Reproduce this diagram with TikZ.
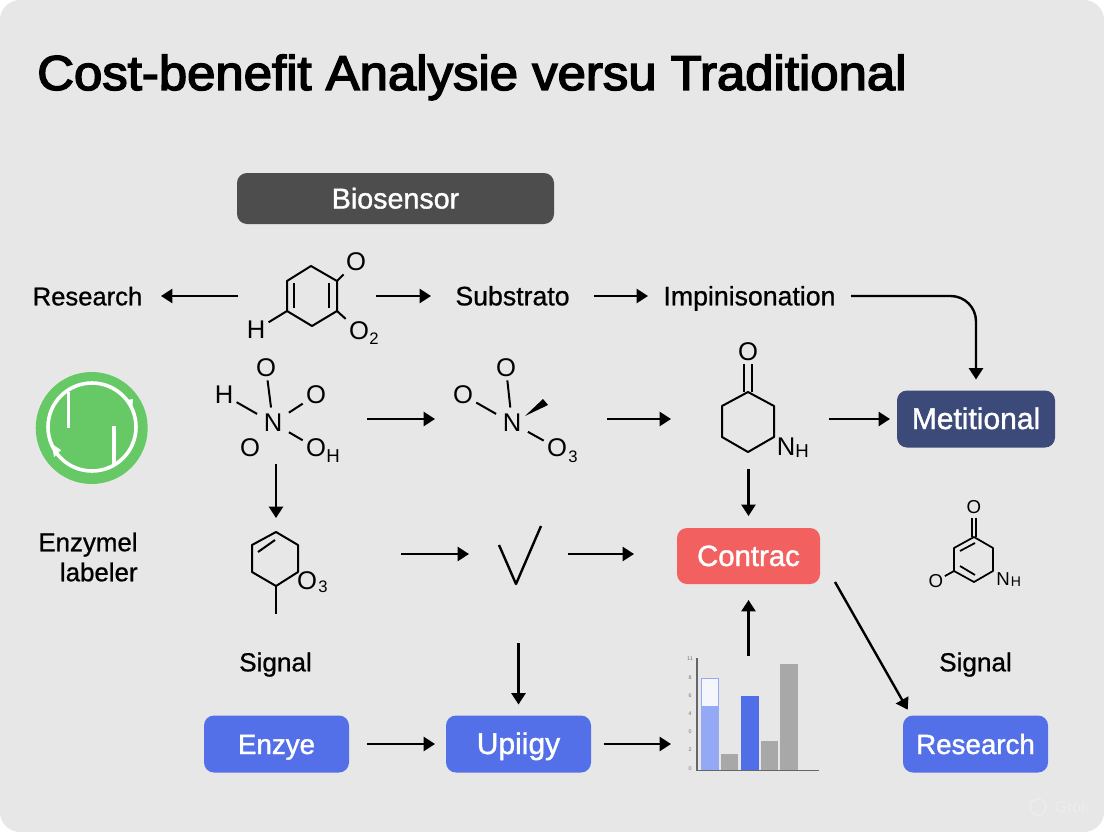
\documentclass[tikz,border=0pt]{standalone}
\usepackage{fontspec}
\setmainfont{Liberation Sans}
\newfontfamily\medfont[FakeBold=0.8]{Liberation Sans}
\newfontfamily\boxfont[FakeBold=1.3]{Liberation Sans}
\newfontfamily\titlefont[FakeBold=3]{Liberation Sans}
\usetikzlibrary{arrows.meta,calc}
\definecolor{bgc}{HTML}{E7E7E7}
\definecolor{darkbox}{HTML}{4D4D4D}
\definecolor{navybox}{HTML}{3B4A78}
\definecolor{redbox}{HTML}{F2605F}
\definecolor{bluebox}{HTML}{5470E8}
\definecolor{greenc}{HTML}{66C966}
\definecolor{barlight}{HTML}{93A9F5}
\definecolor{barblue}{HTML}{4F6EE8}
\definecolor{bargray}{HTML}{A8A8A8}
\definecolor{barpale}{HTML}{F4F6FC}
\tikzset{
  x=0.75pt,y=-0.75pt,
  ph/.style 2 args={rectangle,minimum width=#1*0.75pt,minimum height=#2*0.75pt,inner sep=0pt,outer sep=0pt},
  boxn/.style n args={3}{ph={#1}{#2},fill=#3,rounded corners=7.5pt,text=white,text height=15pt,text depth=0pt,font=\boxfont\fontsize{21.5}{24}\selectfont},
  lab/.style={text height=14pt,text depth=0pt,font=\medfont\fontsize{20}{24}\selectfont,text=black},
  arr/.style={line width=1.8pt,draw=black,-{Triangle[length=8.5pt,width=10.5pt]}},
  bond/.style={line width=1.5pt,draw=black,line join=round},
  atom/.style={inner sep=2.5pt,outer sep=0pt,font=\fontsize{19.2}{20}\selectfont},
  hub/.style={atom,inner sep=5pt},
  subn/.style={inner sep=0pt,outer sep=0pt,font=\fontsize{12.5}{14}\selectfont},
  atoms/.style={inner sep=1.2pt,outer sep=0pt,font=\fontsize{14}{16}\selectfont},
  subs/.style={inner sep=0pt,outer sep=0pt,font=\fontsize{10.5}{12}\selectfont},
  tick/.style={inner sep=0pt,font=\fontsize{4}{5}\selectfont,text=black!55},
}
\begin{document}
\begin{tikzpicture}
\useasboundingbox (0,0) rectangle (1104,832);
\fill[white] (0,0) rectangle (1104,832);
\fill[bgc,rounded corners=15pt] (0,0) rectangle (1104,832);

% title
\node[anchor=west,inner sep=0pt,text height=26.2pt,text depth=0pt,font=\titlefont\fontsize{36.7}{40}\selectfont] (title) at (37,72.5) {\scalebox{1.04}[1]{Cost-benefit Analysie versu Traditional}};

% boxes
\node[boxn={317}{51}{darkbox}] (bio) at (395.5,198.5) {Biosensor};
\node[boxn={158}{57}{navybox},font=\boxfont\fontsize{22.5}{24}\selectfont] (metit) at (976,419) {Metitional};
\node[boxn={143}{56}{redbox},font=\boxfont\fontsize{22}{24}\selectfont] (contrac) at (748.5,556) {Contrac};
\node[boxn={145}{57}{bluebox},font=\boxfont\fontsize{20.8}{24}\selectfont] (enzye) at (276.5,744) {Enzye};
\node[boxn={145}{57}{bluebox},font=\boxfont\fontsize{22.5}{24}\selectfont] (upiigy) at (518.5,744) {Upiigy};
\node[boxn={145}{57}{bluebox},font=\boxfont\fontsize{20.8}{24}\selectfont] (resbox) at (975.5,744) {Research};

% text labels (node extents reach the arrow ends)
\node[ph={147}{30},lab,font=\medfont\fontsize{19.2}{24}\selectfont] (research) at (87.5,296) {Research};
\node[ph={163}{30},lab] (substrato) at (512.5,296) {Substrato};
\node[ph={203}{30},lab] (impin) at (749.5,296) {Impinisonation};
\node[align=right,inner sep=0pt,font=\medfont\fontsize{19.4}{22.5}\selectfont] (enzymel) at (88,557) {Enzymel\\labeler};
\node[lab,inner sep=0pt,font=\medfont\fontsize{19.6}{24}\selectfont] (signalA) at (275.5,662) {Signal};
\node[lab,inner sep=0pt,font=\medfont\fontsize{19.6}{24}\selectfont] (signalB) at (975.5,662) {Signal};

% invisible extents of the drawn figures
\node[ph={138}{60}] (mol1) at (307,296) {};
\node[ph={182}{90}] (mol2) at (276,419) {};
\node[ph={169}{90}] (mol3) at (519.5,419) {};
\node[ph={155}{100}] (mol4) at (748.5,419) {};
\node[ph={250}{72}] (mol5) at (276,554) {};
\node[ph={99}{178}] (check) at (518.5,554) {};
\node[ph={155}{176}] (chart) at (748.5,744) {};
\coordinate (diagstart) at ($(contrac.south east)+(15,-2)$);
\coordinate (diagend) at ($(resbox.north west)+(8,0)$);

% connectors
\draw[arr] (mol1.west) -- (research.east);
\draw[arr] (mol1.east) -- (substrato.west);
\draw[arr] (substrato.east) -- (impin.west);
\draw[arr,rounded corners=19pt,shorten >=8.25pt] (impin.east) -| (metit.north);
\draw[arr] (mol2.east) -- (mol3.west);
\draw[arr,shorten <=2.25pt] (mol3.east) -- (mol4.west);
\draw[arr,shorten <=2.25pt,shorten >=5.25pt] (mol4.east) -- (metit.west);
\draw[arr] (mol2.south) -- (mol5.north);
\draw[arr] (mol5.east) -- (check.west);
\draw[arr,shorten >=32.25pt] (check.east) -- (check.east -| contrac.west);
\draw[arr,shorten >=9pt] (mol4.south) -- (contrac.north);
\draw[arr,shorten >=12pt] (chart.north) -- (contrac.south);
\draw[arr,shorten >=8.25pt] (check.south) -- (upiigy.north);
\draw[arr,shorten <=13.5pt,shorten >=8.25pt] (enzye.east) -- (upiigy.west);
\draw[arr,shorten <=9.75pt] (upiigy.east) -- (chart.west);
\draw[arr,shorten >=5pt] (diagstart) -- (diagend);

% green cycle icon
\fill[greenc] (91.7,428) circle[radius=56];
\draw[white,line width=2.7pt] (92,427) circle[radius=44];
\draw[white,line width=2.7pt] (68.5,392) -- (68.5,428);
\draw[white,line width=2.7pt] (114,426) -- (114,464);
\fill[white] (126,400) -- (133,399) -- (132,411) -- cycle;
\fill[white] (52,444) -- (61,450) -- (54,457) -- cycle;

% molecule 1
\coordinate (m1t) at (311,266); \coordinate (m1ur) at (337,281); \coordinate (m1lr) at (337,311);
\coordinate (m1b) at (312,326); \coordinate (m1ll) at (287,311); \coordinate (m1ul) at (287,281);
\draw[bond] (m1t)--(m1ur)--(m1lr)--(m1b)--(m1ll)--(m1ul)--cycle;
\draw[bond] (294,283)--(294,308);
\draw[bond] (329,283)--(329,308);
\node[atom] (m1O) at (356,262) {O};
\node[atom] (m1H) at (256,330) {H};
\node[atom] (m1Ob) at (359,331) {O};
\node[subn] (m1Os) at (374,339) {2};
\draw[bond] (m1ur) -- (m1O);
\draw[bond] (m1ll) -- (m1H);
\draw[bond] (m1lr) -- (m1Ob);

% molecule 2
\node[hub] (m2N) at (273,423) {N};
\node[atom] (m2Ot) at (266,368) {O};
\node[atom] (m2H) at (224,395) {H};
\node[atom] (m2Or) at (316,395) {O};
\node[atom] (m2Ol) at (250,448) {O};
\node[atom] (m2Oh) at (316,448) {O};
\node[atoms] (m2Hs) at (333,456) {H};
\draw[bond] (m2N) -- (m2Ot);
\draw[bond] (m2N) -- (m2H);
\draw[bond] (m2N) -- (m2Or);
\draw[bond] (m2N) -- (m2Oh);

% molecule 3
\node[hub] (m3N) at (512,423) {N};
\node[atom] (m3Ot) at (506,368) {O};
\node[atom] (m3Ol) at (463,395) {O};
\node[atom] (m3Ob) at (557,448) {O};
\node[subn] (m3Os) at (573,457) {3};
\draw[bond] (m3N) -- (m3Ot);
\draw[bond] (m3N) -- (m3Ol);
\draw[bond] (m3N) -- (m3Ob);
\fill[black] (525,416) -- (548,405) -- (543,399) -- cycle;

% molecule 4
\coordinate (m4t) at (748,392); \coordinate (m4ur) at (774,406); \coordinate (m4lr) at (774,437);
\coordinate (m4b) at (748,452); \coordinate (m4ll) at (722,437); \coordinate (m4ul) at (722,406);
\draw[bond] (m4t)--(m4ur)--(m4lr)--(m4b)--(m4ll)--(m4ul)--cycle;
\node[atom] (m4O) at (748,352) {O};
\node[atom,inner sep=0.5pt] (m4N) at (786,447) {N};
\node[atoms] (m4H) at (802,451) {H};
\draw[bond] (744,392)--(744,364);
\draw[bond] (752,392)--(752,364);

% molecule 5
\coordinate (m5t) at (276,532); \coordinate (m5ur) at (298,545); \coordinate (m5lr) at (298,572);
\coordinate (m5b) at (276,586); \coordinate (m5ll) at (252,572); \coordinate (m5ul) at (252,545);
\coordinate (m5tail) at (276,614);
\draw[bond] (m5t)--(m5ur)--(m5lr)--(m5b)--(m5ll)--(m5ul)--cycle;
\draw[bond] (258,552)--(275,540);
\draw[bond] (m5b)--(m5tail);
\node[atom] (m5O) at (307,581) {O};
\node[subn] (m5Os) at (323,587) {3};

% check mark
\coordinate (cka) at (499,545); \coordinate (ckb) at (516,584); \coordinate (ckc) at (541,526);
\draw[bond,line width=1.8pt] (cka)--(ckb)--(ckc);

% molecule 6
\coordinate (m6t) at (974,537); \coordinate (m6ur) at (993,548); \coordinate (m6lr) at (993,571);
\coordinate (m6b) at (974,582); \coordinate (m6ll) at (954,571); \coordinate (m6ul) at (954,548);
\draw[bond,line width=1.3pt] (m6t)--(m6ur)--(m6lr)--(m6b)--(m6ll)--(m6ul)--cycle;
\draw[bond,line width=1.3pt] (960,551)--(975,543);
\draw[bond,line width=1.3pt] (960,566)--(975,575);
\node[atoms] (m6O) at (974,507) {O};
\node[atoms] (m6Ol) at (936,581) {O};
\node[atoms] (m6N) at (1003,579) {N};
\node[subs] (m6H) at (1016,582) {H};
\draw[bond,line width=1.3pt] (972,537)--(972,518);
\draw[bond,line width=1.3pt] (976,537)--(976,518);
\draw[bond,line width=1.3pt] (m6ll) -- (m6Ol);

% bar chart
\fill[barlight] (701,706) rectangle (719,770);
\fill[barpale,draw=barlight,line width=0.6pt] (701.5,678.5) rectangle (718.5,706);
\fill[bargray] (720.5,754) rectangle (738,770);
\fill[barblue] (741,696) rectangle (759,770);
\fill[bargray] (761,741) rectangle (778,770);
\fill[bargray] (780,664) rectangle (798,770);
\draw[black!60,line width=0.9pt] (697,658) -- (697,770.5) -- (819,770.5);
\foreach \yy/\tt [count=\ii] in {659/11,678/8,696/6,714/4,732/0,750/2,769/0}
  \node[tick,name=tick\ii] at (690,\yy) {\tt};

% watermark
\draw[draw=white!93!black,line width=1.1pt] (1038,807) circle[radius=8];
\node[inner sep=0pt,text=white!93!black,font=\fontsize{12}{14}\selectfont] (grok) at (1072,807) {Grok};
\end{tikzpicture}
\end{document}
